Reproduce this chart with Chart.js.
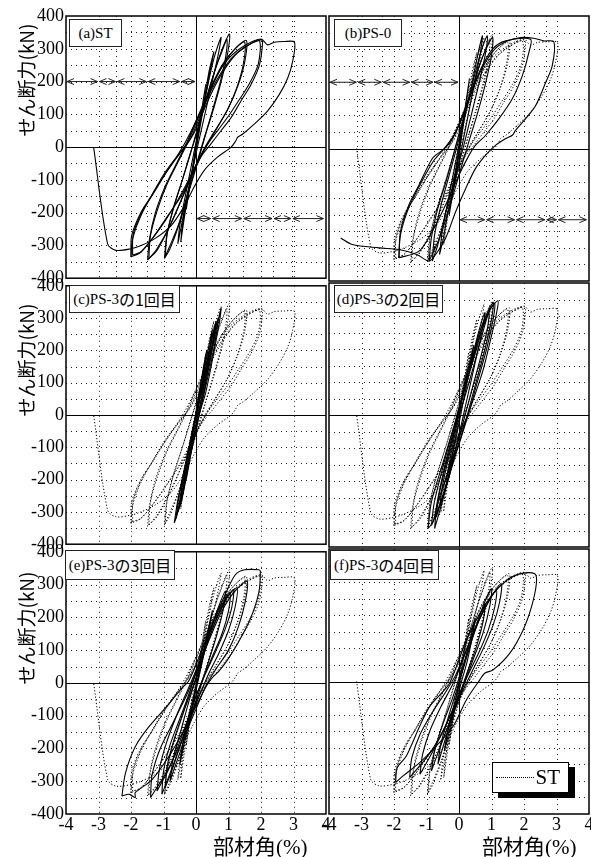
<!DOCTYPE html>
<html>
<head>
<meta charset="utf-8">
<script src="https://cdn.jsdelivr.net/npm/chart.js@4.4.0/dist/chart.umd.min.js"></script>
<style>
  html, body { margin: 0; padding: 0; width: 591px; height: 857px; overflow: hidden; background: #fff; }
  canvas { position: absolute; }
  .lab { position: absolute; background: #fff; border: 1.5px solid #222; box-sizing: border-box;
         font: 15px "Liberation Serif"; color: #000; display: flex; align-items: center; justify-content: center; white-space: nowrap; }
  .jp { font-family: "Noto Sans CJK JP"; font-size: 16px; }
  .ytitle { position: absolute; font: 19px "Noto Sans CJK JP"; color: #000; white-space: nowrap;
            transform: translate(-50%, -50%) rotate(-90deg); }
  .xtitle { position: absolute; font: 21px "Noto Sans CJK JP"; color: #000; white-space: nowrap; }
  .xtitle span { font-family: "Liberation Serif"; }
</style>
</head>
<body>
<script>
// ---- data (部材角 %, せん断力 kN) ----
const xGrid = [-3, -2, -1, 1, 2, 3];
const yGrid = [-350, -300, -250, -200, -150, -100, -50, 50, 100, 150, 200, 250, 300, 350];

// (a) ST
const stLoops = [
  [[-0.3,-190],[-0.2,-120],[-0.05,-40],[0.1,60],[0.3,190],[0.2,130],[0.05,40],[-0.1,-60],[-0.3,-190]],
  [[-0.47,-290],[-0.4,-220],[-0.2,-110],[0,-10],[0.2,110],[0.4,230],[0.55,290],[0.45,240],[0.25,130],[0.05,20],[-0.15,-90],[-0.35,-210],[-0.47,-290]],
  [[-0.56,-295],[-0.5,-240],[-0.35,-160],[-0.15,-60],[0.05,40],[0.3,160],[0.55,270],[0.77,335],[0.7,290],[0.5,200],[0.25,90],[0,-20],[-0.25,-140],[-0.45,-240],[-0.56,-295]],
  [[-0.97,-340],[-0.9,-270],[-0.7,-190],[-0.45,-110],[-0.2,-30],[0,40],[0.3,140],[0.6,240],[0.85,310],[1.03,345],[0.98,290],[0.8,210],[0.55,120],[0.3,40],[0.1,-30],[-0.2,-130],[-0.5,-230],[-0.8,-310],[-0.97,-340]],
  [[-0.95,-335],[-0.88,-260],[-0.68,-180],[-0.42,-100],[-0.18,-20],[0.05,50],[0.32,150],[0.62,245],[0.85,305],[0.95,330],[0.92,280],[0.75,200],[0.5,110],[0.26,30],[0.05,-40],[-0.25,-140],[-0.55,-240],[-0.82,-305],[-0.95,-335]],
  [[-1.49,-345],[-1.43,-280],[-1.25,-200],[-0.95,-120],[-0.6,-50],[-0.3,10],[0,80],[0.4,170],[0.8,250],[1.2,300],[1.55,325],[1.5,260],[1.3,190],[1.0,120],[0.6,50],[0.3,0],[0,-60],[-0.4,-150],[-0.8,-240],[-1.2,-310],[-1.49,-345]],
  [[-1.45,-340],[-1.4,-270],[-1.2,-195],[-0.9,-115],[-0.55,-45],[-0.25,15],[0.05,85],[0.45,175],[0.85,255],[1.25,305],[1.5,320],[1.46,255],[1.25,180],[0.95,110],[0.55,45],[0.25,-5],[-0.05,-65],[-0.45,-160],[-0.85,-250],[-1.2,-315],[-1.45,-340]],
  [[-2.0,-335],[-1.98,-270],[-1.7,-200],[-1.38,-150],[-0.97,-80],[-0.56,-25],[-0.36,0],[-0.15,30],[0.15,100],[0.36,150],[0.67,210],[1.08,270],[1.49,305],[2.0,328],[2.05,320],[1.95,250],[1.69,190],[1.38,140],[1.08,90],[0.77,50],[0.46,10],[0.15,-30],[-0.15,-90],[-0.46,-150],[-0.87,-210],[-1.28,-270],[-1.69,-320],[-2.0,-335]],
  [[-1.95,-330],[-1.93,-265],[-1.65,-195],[-1.3,-140],[-0.9,-75],[-0.5,-20],[-0.3,5],[-0.05,45],[0.25,115],[0.5,170],[0.8,225],[1.2,280],[1.6,310],[1.95,325],[1.92,255],[1.65,195],[1.3,140],[1.0,95],[0.7,55],[0.4,15],[0.1,-35],[-0.2,-95],[-0.55,-160],[-0.95,-225],[-1.35,-280],[-1.7,-320],[-1.95,-330]],
  [[-2.0,-335],[-1.95,-280],[-1.7,-210],[-1.2,-120],[-0.6,-30],[-0.3,20],[0.2,120],[0.6,210],[1.0,270],[1.5,310],[2.0,330],[2.2,312],[2.41,320],[2.7,322],[3.03,320],[2.97,260],[2.82,210],[2.56,160],[2.2,110],[1.79,70],[1.44,40],[1.28,30],[1.23,20],[1.08,0],[0.67,-30],[0.26,-70],[-0.05,-120],[-0.36,-180],[-0.77,-240],[-1.28,-280],[-1.69,-300],[-2.0,-310],[-2.46,-315],[-2.72,-295],[-3.15,0]]
];

// (b) PS-0
const ps0Loops = [
  [[-0.3,-200],[-0.15,-110],[0,-20],[0.15,90],[0.32,210],[0.2,130],[0.05,30],[-0.1,-70],[-0.3,-200]],
  [[-0.6,-320],[-0.5,-240],[-0.3,-140],[-0.1,-40],[0.1,60],[0.35,170],[0.55,270],[0.72,340],[0.66,290],[0.5,210],[0.3,110],[0.1,10],[-0.1,-90],[-0.35,-200],[-0.5,-280],[-0.6,-320]],
  [[-0.82,-340],[-0.75,-260],[-0.55,-170],[-0.3,-80],[-0.05,10],[0.2,110],[0.45,210],[0.7,300],[0.87,340],[0.82,290],[0.65,210],[0.4,110],[0.15,10],[-0.1,-80],[-0.4,-190],[-0.65,-290],[-0.82,-340]],
  [[-0.92,-340],[-0.85,-270],[-0.65,-180],[-0.4,-100],[-0.15,-10],[0.1,80],[0.4,180],[0.7,270],[1.03,335],[1.0,280],[0.8,190],[0.55,100],[0.3,20],[0,-80],[-0.3,-180],[-0.6,-270],[-0.92,-340]],
  [[-1.85,-330],[-1.8,-250],[-1.54,-170],[-1.23,-110],[-0.82,-30],[-0.51,-5],[-0.26,20],[0,70],[0.31,150],[0.62,230],[1.03,300],[1.44,325],[2.2,330],[2.15,290],[1.95,220],[1.64,150],[1.23,90],[0.82,40],[0.51,10],[0.31,-20],[0,-80],[-0.41,-170],[-0.82,-250],[-1.23,-310],[-1.85,-330]],
  [[-1.85,-330],[-1.8,-260],[-1.55,-180],[-1.2,-110],[-0.8,-40],[-0.45,0],[-0.1,50],[0.3,150],[0.7,240],[1.1,300],[1.5,325],[1.9,335],[2.3,333],[2.6,325],[2.92,322],[2.87,250],[2.67,200],[2.36,130],[2.05,90],[1.74,55],[1.64,40],[1.44,30],[1.13,10],[0.82,-20],[0.51,-60],[0.21,-120],[-0.1,-190],[-0.41,-270],[-0.72,-320],[-0.92,-340],[-1.3,-320],[-1.85,-305],[-2.46,-300],[-3.28,-290],[-3.64,-270]]
];

// (c) PS-3 1回目
const ps3Run1Loops = [
  [[-0.3,-200],[-0.18,-120],[-0.05,-30],[0.1,70],[0.33,200],[0.25,140],[0.1,40],[-0.05,-60],[-0.3,-200]],
  [[-0.45,-270],[-0.36,-200],[-0.18,-90],[0.02,20],[0.25,140],[0.5,262],[0.44,210],[0.27,110],[0.07,0],[-0.15,-110],[-0.35,-220],[-0.45,-270]],
  [[-0.5,-285],[-0.42,-220],[-0.22,-110],[0,0],[0.2,95],[0.4,190],[0.58,275],[0.52,225],[0.35,135],[0.15,40],[-0.05,-60],[-0.25,-160],[-0.42,-250],[-0.5,-285]],
  [[-0.55,-300],[-0.45,-230],[-0.25,-120],[0,0],[0.22,110],[0.45,220],[0.62,290],[0.56,240],[0.4,150],[0.2,50],[0,-50],[-0.25,-160],[-0.45,-260],[-0.55,-300]],
  [[-0.62,-320],[-0.52,-250],[-0.3,-140],[-0.05,-20],[0.2,90],[0.45,200],[0.68,300],[0.64,260],[0.5,180],[0.28,80],[0.05,-20],[-0.2,-130],[-0.42,-240],[-0.62,-320]],
  [[-0.67,-334],[-0.56,-264],[-0.26,-124],[0,0],[0.26,106],[0.56,236],[0.77,331],[0.74,300],[0.58,210],[0.3,70],[0.06,-10],[-0.15,-104],[-0.41,-244],[-0.6,-315],[-0.67,-334]]
];

// (d) PS-3 2回目
const ps3Run2Loops = [
  [[-0.4,-200],[-0.25,-120],[-0.05,-20],[0.15,80],[0.45,210],[0.35,150],[0.15,50],[-0.05,-50],[-0.25,-140],[-0.4,-200]],
  [[-0.6,-280],[-0.5,-210],[-0.25,-100],[0,10],[0.3,130],[0.6,250],[0.8,310],[0.72,260],[0.5,160],[0.25,50],[0,-60],[-0.3,-180],[-0.5,-250],[-0.6,-280]],
  [[-0.7,-310],[-0.62,-245],[-0.4,-150],[-0.15,-50],[0.1,50],[0.4,155],[0.7,255],[0.92,310],[0.88,265],[0.68,180],[0.42,85],[0.15,-15],[-0.15,-120],[-0.45,-230],[-0.7,-310]],
  [[-0.75,-344],[-0.68,-270],[-0.45,-160],[-0.2,-60],[0.05,40],[0.35,150],[0.7,270],[1.05,341],[1.0,290],[0.8,200],[0.5,90],[0.2,-20],[-0.15,-130],[-0.45,-240],[-0.65,-310],[-0.75,-344]],
  [[-0.85,-335],[-0.76,-265],[-0.5,-160],[-0.2,-50],[0.05,40],[0.35,145],[0.65,245],[0.95,320],[1.1,338],[1.05,290],[0.85,200],[0.55,95],[0.25,-10],[-0.1,-120],[-0.45,-230],[-0.7,-300],[-0.85,-335]],
  [[-0.95,-344],[-0.85,-264],[-0.49,-144],[-0.18,-44],[0.02,6],[0.33,106],[0.64,216],[0.94,316],[1.2,346],[1.15,306],[0.99,236],[0.74,136],[0.33,16],[0.02,-64],[-0.34,-174],[-0.65,-264],[-0.8,-324],[-0.95,-344]]
];

// (e) PS-3 3回目
const ps3Run3Loops = [
  [[-0.5,-250],[-0.4,-180],[-0.2,-90],[0,-10],[0.2,80],[0.5,220],[0.42,170],[0.25,90],[0.05,0],[-0.15,-90],[-0.35,-180],[-0.5,-250]],
  [[-0.8,-300],[-0.7,-230],[-0.45,-140],[-0.2,-50],[0.05,30],[0.35,130],[0.65,220],[0.9,280],[0.85,230],[0.65,150],[0.4,70],[0.15,-10],[-0.15,-100],[-0.45,-200],[-0.7,-270],[-0.8,-300]],
  [[-0.95,-320],[-0.88,-250],[-0.65,-165],[-0.35,-80],[-0.05,0],[0.25,90],[0.6,190],[0.95,265],[1.05,275],[1.0,220],[0.8,150],[0.5,80],[0.2,10],[-0.1,-70],[-0.45,-180],[-0.75,-270],[-0.95,-320]],
  [[-1.05,-340],[-1.0,-270],[-0.8,-190],[-0.5,-110],[-0.2,-30],[0.1,60],[0.4,150],[0.8,240],[1.26,290],[1.2,230],[1.0,160],[0.7,90],[0.4,30],[0.1,-40],[-0.3,-140],[-0.7,-250],[-1.05,-340]],
  [[-1.2,-330],[-1.12,-260],[-0.9,-180],[-0.6,-100],[-0.25,-20],[0.05,50],[0.4,140],[0.8,230],[1.15,285],[1.1,230],[0.9,165],[0.6,95],[0.3,30],[0,-40],[-0.35,-140],[-0.8,-255],[-1.2,-330]],
  [[-1.4,-350],[-1.35,-280],[-1.1,-200],[-0.7,-120],[-0.3,-40],[0,30],[0.4,130],[0.8,220],[1.2,280],[1.57,310],[1.52,250],[1.3,170],[1.0,100],[0.6,40],[0.3,-10],[0,-80],[-0.4,-170],[-0.9,-270],[-1.4,-350]],
  [[-2.28,-345],[-2.17,-275],[-1.87,-195],[-1.46,-135],[-0.84,-65],[-0.43,-15],[-0.23,5],[0.1,80],[0.5,180],[0.9,270],[1.21,330],[1.5,345],[1.93,345],[1.98,340],[1.93,275],[1.67,195],[1.31,125],[1.0,75],[0.7,35],[0.49,15],[0.29,-15],[-0.02,-75],[-0.43,-155],[-0.84,-225],[-1.35,-295],[-1.87,-335],[-1.87,-350],[-2.05,-340],[-2.28,-345]]
];

// (f) PS-3 4回目
const ps3Run4Loops = [
  [[-0.45,-210],[-0.35,-150],[-0.15,-70],[0.05,10],[0.25,90],[0.5,190],[0.42,140],[0.25,60],[0.05,-10],[-0.15,-90],[-0.35,-170],[-0.45,-210]],
  [[-0.65,-250],[-0.56,-190],[-0.35,-115],[-0.1,-35],[0.15,45],[0.45,140],[0.75,220],[0.8,235],[0.75,185],[0.55,110],[0.3,40],[0.05,-30],[-0.25,-120],[-0.5,-200],[-0.65,-250]],
  [[-0.85,-270],[-0.75,-210],[-0.5,-130],[-0.2,-50],[0.1,40],[0.4,130],[0.75,230],[1.0,280],[0.95,230],[0.75,150],[0.45,70],[0.15,-10],[-0.2,-100],[-0.55,-190],[-0.85,-270]],
  [[-1.2,-280],[-1.12,-220],[-0.9,-150],[-0.55,-75],[-0.2,-10],[0.1,60],[0.45,150],[0.85,230],[1.15,275],[1.1,225],[0.9,155],[0.6,85],[0.3,25],[0,-40],[-0.35,-120],[-0.8,-210],[-1.2,-280]],
  [[-1.52,-290],[-1.45,-230],[-1.2,-160],[-0.8,-90],[-0.4,-30],[-0.1,20],[0.2,90],[0.5,160],[0.9,240],[1.3,295],[1.25,240],[1.05,170],[0.75,100],[0.45,40],[0.15,-20],[-0.2,-90],[-0.6,-170],[-1.0,-230],[-1.52,-290]],
  [[-1.95,-305],[-1.9,-260],[-1.62,-225],[-1.21,-135],[-0.9,-75],[-0.49,-30],[-0.29,-5],[-0.08,45],[0.23,125],[0.64,205],[1.05,265],[1.46,305],[1.87,325],[2.33,325],[2.38,295],[2.23,225],[1.97,155],[1.56,85],[1.05,35],[0.79,25],[0.64,5],[0.23,-55],[-0.18,-135],[-0.7,-195],[-1.21,-245],[-1.72,-285],[-1.95,-305]]
];

// gauge arrows (x breakpoints at a force level)
const arrowsA = [{ y: 200, xs: [-4, -3, -2.45, -1.5, -0.47, 0] }, { y: -218, xs: [0, 0.48, 1.44, 2.37, 2.95, 3.95] }];
const arrowsB = [{ y: 200, xs: [-4, -3.13, -2.36, -1.49, -0.77, 0] }, { y: -215, xs: [0, 0.82, 1.74, 2.67, 3.03, 3.95] }];

// ---- layout ----
const cols = [
  { left: 0, width: 336, padL: 0, padR: 10, yWidth: 66 },
  { left: 319, width: 280, padL: 10, padR: 10, yWidth: 0 }
];
const rows = [
  { top: 0, height: 291, padT: 16, padB: 10, xHeight: 0 },
  { top: 273, height: 284, padT: 10, padB: 10, xHeight: 0 },
  { top: 539, height: 318, padT: 10, padB: 21, xHeight: 22 }
];

const panels = [
  { col: 0, row: 0, loops: stLoops, st: false, arrows: arrowsA, label: '(a)ST', box: [69, 19, 53, 28] },
  { col: 1, row: 0, loops: ps0Loops, st: true, arrows: arrowsB, label: '(b)PS-0', box: [334, 19, 68, 28] },
  { col: 0, row: 1, loops: ps3Run1Loops, st: true, label: '(c)PS-3', jp: 'の1回目', box: [69, 285, 111, 28] },
  { col: 1, row: 1, loops: ps3Run2Loops, st: true, label: '(d)PS-3', jp: 'の2回目', box: [334, 285, 109, 28] },
  { col: 0, row: 2, loops: ps3Run3Loops, st: true, label: '(e)PS-3', jp: 'の3回目', box: [65, 550, 110, 30] },
  { col: 1, row: 2, loops: ps3Run4Loops, st: true, label: '(f)PS-3', jp: 'の4回目', box: [330, 550, 109, 30] }
];

const panelDecor = {
  id: 'panelDecor',
  beforeDatasetsDraw(chart, args, opts) {
    const { ctx, chartArea: a, scales: { x, y } } = chart;
    ctx.save();
    ctx.lineWidth = 1;
    ctx.strokeStyle = '#222';
    ctx.setLineDash([1, 4]);
    ctx.beginPath();
    yGrid.forEach(v => {
      const py = Math.round(y.getPixelForValue(v)) + 0.5;
      ctx.moveTo(a.left, py); ctx.lineTo(a.right, py);
    });
    xGrid.concat(opts.extraX || []).forEach(v => {
      const px = Math.round(x.getPixelForValue(v)) + 0.5;
      ctx.moveTo(px, a.top); ctx.lineTo(px, a.bottom);
    });
    ctx.stroke();
    ctx.setLineDash([]);
    ctx.strokeStyle = '#000';
    ctx.beginPath();
    const zx = Math.round(x.getPixelForValue(0)) + 0.5;
    const zy = Math.round(y.getPixelForValue(0)) + 0.5;
    ctx.moveTo(a.left, zy); ctx.lineTo(a.right, zy);
    ctx.moveTo(zx, a.top); ctx.lineTo(zx, a.bottom);
    ctx.stroke();
    ctx.restore();
  },
  afterDatasetsDraw(chart, args, opts) {
    const { ctx, chartArea: a, scales: { x, y } } = chart;
    ctx.save();
    ctx.strokeStyle = '#222';
    ctx.lineWidth = 1;
    (opts.arrows || []).forEach(ar => {
      const py = y.getPixelForValue(ar.y);
      for (let i = 0; i < ar.xs.length - 1; i++) {
        const x0 = x.getPixelForValue(ar.xs[i]) + 1;
        const x1 = x.getPixelForValue(ar.xs[i + 1]) - 1;
        ctx.beginPath();
        ctx.moveTo(x0, py); ctx.lineTo(x1, py);
        ctx.moveTo(x0 + 7, py - 3); ctx.lineTo(x0, py); ctx.lineTo(x0 + 7, py + 3);
        ctx.moveTo(x1 - 7, py - 3); ctx.lineTo(x1, py); ctx.lineTo(x1 - 7, py + 3);
        ctx.stroke();
      }
    });
    ctx.strokeStyle = '#000';
    ctx.lineWidth = 1.5;
    ctx.strokeRect(a.left, a.top, a.right - a.left, a.bottom - a.top);
    ctx.restore();
  }
};

Chart.defaults.font.family = 'Liberation Serif';
Chart.defaults.color = '#000';

const toPts = loop => loop.map(p => ({ x: p[0], y: p[1] }));

panels.forEach(p => {
  const c = cols[p.col], r = rows[p.row];
  const cv = document.createElement('canvas');
  cv.width = c.width; cv.height = r.height;
  cv.style.left = c.left + 'px'; cv.style.top = r.top + 'px';
  document.body.appendChild(cv);

  const datasets = [];
  if (p.st) {
    stLoops.forEach(l => datasets.push({ data: toPts(l), showLine: true, borderColor: '#000', borderWidth: 1,
      borderDash: [1.2, 2], pointRadius: 0, tension: 0.3 }));
  }
  p.loops.forEach(l => datasets.push({ data: toPts(l), showLine: true, borderColor: '#000', borderWidth: 1.1,
    pointRadius: 0, tension: 0.3 }));

  const extraX = p.arrows ? p.arrows.flatMap(ar => ar.xs.slice(1, -1)) : [];

  new Chart(cv, {
    type: 'scatter',
    data: { datasets },
    options: {
      responsive: false,
      animation: false,
      devicePixelRatio: 1,
      layout: { padding: { left: c.padL, right: c.padR, top: r.padT, bottom: r.padB } },
      plugins: { legend: { display: false }, tooltip: { enabled: false },
                 panelDecor: { arrows: p.arrows, extraX } },
      scales: {
        x: {
          type: 'linear', min: -4, max: 4,
          grid: { display: false, drawTicks: false }, border: { display: false },
          ticks: { display: p.row === 2, stepSize: 1, padding: 0, maxRotation: 0, autoSkip: false,
                   font: { size: 18, family: 'Liberation Serif' } },
          afterFit: s => { s.height = r.xHeight; }
        },
        y: {
          type: 'linear', min: -400, max: 400,
          grid: { display: false, drawTicks: false }, border: { display: false },
          ticks: { display: p.col === 0, stepSize: 100, padding: 2, autoSkip: false,
                   font: { size: 18, family: 'Liberation Serif' } },
          afterFit: s => { s.width = c.yWidth; }
        }
      }
    },
    plugins: [panelDecor]
  });

  const lb = document.createElement('div');
  lb.className = 'lab';
  lb.style.left = p.box[0] + 'px'; lb.style.top = p.box[1] + 'px';
  lb.style.width = p.box[2] + 'px'; lb.style.height = p.box[3] + 'px';
  lb.innerHTML = p.label + (p.jp ? '<span class="jp">' + p.jp + '</span>' : '');
  document.body.appendChild(lb);
});

// axis titles
[80, 360, 628].forEach(cy => {
  const d = document.createElement('div');
  d.className = 'ytitle';
  d.style.left = '25px'; d.style.top = cy + 'px';
  d.textContent = 'せん断力(kN)';
  document.body.appendChild(d);
});
[213, 482].forEach(lx => {
  const d = document.createElement('div');
  d.className = 'xtitle';
  d.style.left = lx + 'px'; d.style.top = '830px';
  d.innerHTML = '部材角<span>(%)</span>';
  document.body.appendChild(d);
});

// legend
const lg = document.createElement('div');
lg.style.cssText = 'position:absolute;left:492px;top:762px;width:77px;height:31px;box-sizing:border-box;' +
  'border:1px solid #000;background:#fff;box-shadow:6px 5px 0 #000;';
lg.innerHTML = '<div style="position:absolute;left:3px;top:14px;width:38px;border-top:1px dotted #000"></div>' +
  '<div style="position:absolute;right:8px;top:2px;font:21px \'Liberation Serif\'">ST</div>';
document.body.appendChild(lg);
</script>
</body>
</html>
